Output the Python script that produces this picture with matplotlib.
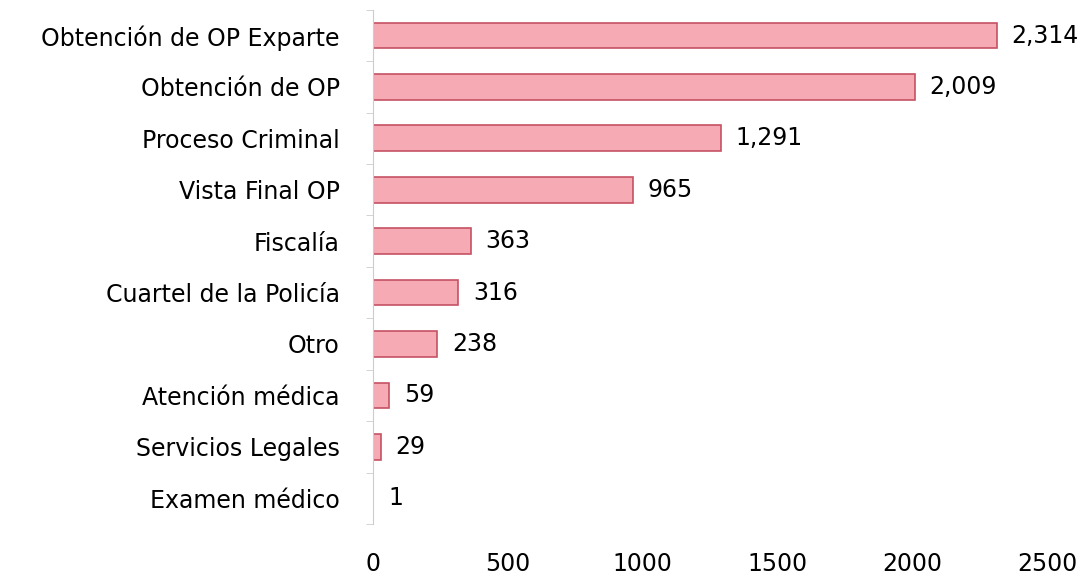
import matplotlib.pyplot as plt
import numpy as np

categories = ['Obtención de OP Exparte', 'Obtención de OP', 'Proceso Criminal',
              'Vista Final OP', 'Fiscalía', 'Cuartel de la Policía', 'Otro',
              'Atención médica', 'Servicios Legales', 'Examen médico']
values = [2314, 2009, 1291, 965, 363, 316, 238, 59, 29, 1]
xticks = [0, 500, 1000, 1500, 2000, 2500]

plt.rcParams['font.family'] = ['DejaVu Sans']

fig = plt.figure(figsize=(10.86, 5.77), dpi=100)
ax = fig.add_axes([0.3435, 0.092, 0.6205, 0.891])

y = np.arange(len(categories))
ax.barh(y, values, height=0.5, color='#f5aab4', edgecolor='#c65263', linewidth=1.2)

for yi, v in zip(y, values):
    ax.text(v + 55, yi, f'{v:,}', va='center', ha='left', fontsize=17, color='black')

ax.set_ylim(len(categories) - 0.5, -0.5)
ax.set_xlim(0, 2500)
ax.set_yticks(y)
ax.set_yticklabels(categories, fontsize=17)
ax.set_yticks(np.arange(len(categories) + 1) - 0.5, minor=True)
ax.tick_params(axis='y', which='major', length=0, pad=24)
ax.tick_params(axis='y', which='minor', length=5, color='#cccccc')
ax.set_xticks(xticks)
ax.set_xticklabels([str(t) for t in xticks], fontsize=17)
ax.tick_params(axis='x', length=0, pad=20)

for s in ['top', 'right', 'bottom']:
    ax.spines[s].set_visible(False)
ax.spines['left'].set_color('#cccccc')

fig.savefig('out.png', dpi=100)
